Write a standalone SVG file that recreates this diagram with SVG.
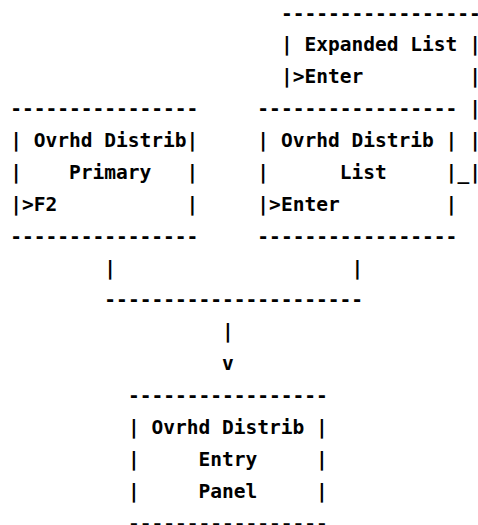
<svg xmlns="http://www.w3.org/2000/svg" width="478" height="525" viewBox="0 0 478 525">
<style>
text{font-family:"DejaVu Sans Mono","Liberation Mono",monospace;font-weight:bold;font-size:19.55px;fill:#000;white-space:pre}
</style>
<rect width="478" height="525" fill="#fff"/>
<g id="expanded-list">
<text x="280.91" y="19.5" xml:space="preserve">-----------------</text>
<text x="280.91" y="51.38" xml:space="preserve">| Expanded List</text>
<text x="469.23" y="51.38">|</text>
<text x="280.91" y="83.26" xml:space="preserve">|&gt;Enter</text>
<text x="469.23" y="83.26">|</text>
<text x="469.23" y="115.14">|</text>
<text x="469.23" y="147.02">|</text>
<text x="457.46" y="178.9">_|</text>
</g>
<g id="ovrhd-distrib-primary">
<text x="10.2" y="115.14" xml:space="preserve">----------------</text>
<text x="10.2" y="147.02" xml:space="preserve">| Ovrhd Distrib|</text>
<text x="10.2" y="178.9" xml:space="preserve">|    Primary   |</text>
<text x="10.2" y="210.78" xml:space="preserve">|&gt;F2           |</text>
<text x="10.2" y="242.66" xml:space="preserve">----------------</text>
</g>
<g id="ovrhd-distrib-list">
<text x="257.37" y="115.14" xml:space="preserve">-----------------</text>
<text x="257.37" y="147.02" xml:space="preserve">| Ovrhd Distrib |</text>
<text x="257.37" y="178.9" xml:space="preserve">|      List     |</text>
<text x="257.37" y="210.78" xml:space="preserve">|&gt;Enter         |</text>
<text x="257.37" y="242.66" xml:space="preserve">-----------------</text>
</g>
<g id="connectors">
<text x="104.36" y="274.54">|</text>
<text x="351.53" y="274.54">|</text>
<text x="104.36" y="306.42" xml:space="preserve">----------------------</text>
<text x="222.06" y="338.3">|</text>
<text x="222.06" y="370.18">v</text>
</g>
<g id="ovrhd-distrib-entry-panel">
<text x="127.9" y="402.06" xml:space="preserve">-----------------</text>
<text x="127.9" y="433.94" xml:space="preserve">| Ovrhd Distrib |</text>
<text x="127.9" y="465.82" xml:space="preserve">|     Entry     |</text>
<text x="127.9" y="497.7" xml:space="preserve">|     Panel     |</text>
<text x="127.9" y="530.4" xml:space="preserve">-----------------</text>
</g>
</svg>
